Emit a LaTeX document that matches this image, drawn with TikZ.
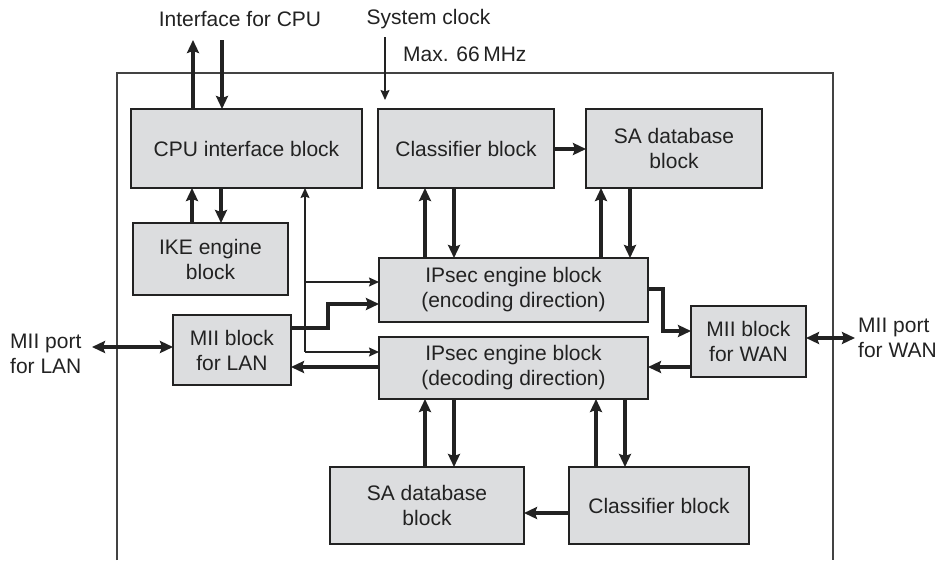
\documentclass[tikz,border=0pt]{standalone}
\usepackage{fontspec}
\setmainfont{Liberation Sans}
\usetikzlibrary{arrows.meta,calc}
\definecolor{boxfill}{HTML}{DCDDDF}
\definecolor{ink}{HTML}{222222}
\begin{document}
\begin{tikzpicture}[x=1pt,y=-1pt,
  font=\fontsize{21}{25}\selectfont, text=ink,
  blk/.style={draw=ink, fill=boxfill, line width=1.5pt, align=center,
              inner sep=0pt, outer sep=0pt},
  thk/.style={draw=ink, line width=3.2pt,
              arrows={-Stealth[length=13pt,width=12pt,inset=2pt]}},
  thkboth/.style={draw=ink, line width=3.2pt,
              arrows={Stealth[length=13pt,width=12pt,inset=2pt]-Stealth[length=13pt,width=12pt,inset=2pt]}},
  thn/.style={draw=ink, line width=1.3pt,
              arrows={-Stealth[length=10pt,width=9pt,inset=1.5pt]}},
  thnline/.style={draw=ink, line width=1.3pt},
  frameline/.style={draw=ink!85, line width=1.3pt},
  lbl/.style={inner sep=0pt, align=left}]
\useasboundingbox (0,0) rectangle (940,560);

% chip outline (open at the bottom)
\draw[frameline] (117,560) -- (117,73) -- (833,73) -- (833,560);

% blocks
\node[blk, minimum width=231, minimum height=79] (cpu)  at (246.5,148.5) {CPU interface block};
\node[blk, minimum width=176, minimum height=79] (clsA) at (466,148.5)   {Classifier block};
\node[blk, minimum width=176, minimum height=79] (saA)  at (674,148.5)   {SA database\\block};
\node[blk, minimum width=155, minimum height=72] (ike)  at (210.5,259)   {IKE engine\\block};
\node[blk, minimum width=118, minimum height=70] (miil) at (232,350)     {MII block\\for LAN};
\node[blk, minimum width=269, minimum height=64] (enc)  at (513.5,290)   {IPsec engine block\\(encoding direction)};
\node[blk, minimum width=269, minimum height=62] (dec)  at (513.5,368)   {IPsec engine block\\(decoding direction)};
\node[blk, minimum width=115, minimum height=71] (miiw) at (748.5,341.5) {MII block\\for WAN};
\node[blk, minimum width=194, minimum height=77] (saB)  at (427,505.5)   {SA database\\block};
\node[blk, minimum width=180, minimum height=77] (clsB) at (659,505.5)   {Classifier block};

% external labels
\node[lbl] (cpulbl) at (240,19)  {Interface for CPU};
\node[lbl] (clklbl) at (428.5,19) {System clock};
\node[lbl, anchor=west] (mhz) at (403,54) {Max. 66\,MHz};
\node[lbl, anchor=west] (portLlbl) at (10,354) {MII port\\for LAN};
\node[lbl, anchor=west] (portWlbl) at (858,338) {MII port\\for WAN};

% free ends and bends
\coordinate (cpuUp)   at (193,40);
\coordinate (cpuDown) at (222,40);
\coordinate (clkTop)  at (385,37);
\coordinate (clkTip)  at (385,100);
\coordinate (jA) at (305,282);
\coordinate (jB) at (305,352);
\coordinate (portL) at (92,347);
\coordinate (portW) at (855,338);

% CPU interface to the outside
\draw[thk] (cpuUp |- cpu.north) -- (cpuUp);
\draw[thk] (cpuDown) -- (cpuDown |- cpu.north);

% system clock
\draw[thn] (clkTop) -- (clkTip);

% CPU interface <-> IKE engine
\draw[thk] (192,0 |- ike.north) -- (192,0 |- cpu.south);
\draw[thk] (221,0 |- cpu.south) -- (221,0 |- ike.north);

% control line from the IPsec engines to the CPU interface
\draw[thnline] (jA) -- (jB);
\draw[thn] (jA) -- (jA |- cpu.south);
\draw[thn] (jA) -- (jA -| enc.west);
\draw[thn] (jB) -- (jB -| dec.west);

% LAN side
\draw[thkboth] (portL) -- (portL -| miil.west);
\draw[thk] (miil.east |- 0,328) -- (328,328) -- (328,304) -- (enc.west |- 0,304);
\draw[thk] (dec.west |- 0,367) -- (miil.east |- 0,367);

% WAN side
\draw[thk] (enc.east |- 0,289) -- (663,289) -- (663,331) -- (miiw.west |- 0,331);
\draw[thk] (miiw.west |- 0,367) -- (dec.east |- 0,367);
\draw[thkboth] (miiw.east |- 0,338) -- (portW);

% encoding engine <-> upper classifier / SA database
\draw[thk] (425,0 |- enc.north) -- (425,0 |- clsA.south);
\draw[thk] (454,0 |- clsA.south) -- (454,0 |- enc.north);
\draw[thk] (601,0 |- enc.north) -- (601,0 |- saA.south);
\draw[thk] (630,0 |- saA.south) -- (630,0 |- enc.north);
\draw[thk] (clsA.east |- 0,149) -- (saA.west |- 0,149);

% decoding engine <-> lower SA database / classifier
\draw[thk] (425,0 |- saB.north) -- (425,0 |- dec.south);
\draw[thk] (454,0 |- dec.south) -- (454,0 |- saB.north);
\draw[thk] (596,0 |- clsB.north) -- (596,0 |- dec.south);
\draw[thk] (625,0 |- dec.south) -- (625,0 |- clsB.north);
\draw[thk] (clsB.west |- 0,513) -- (saB.east |- 0,513);
\end{tikzpicture}
\end{document}
